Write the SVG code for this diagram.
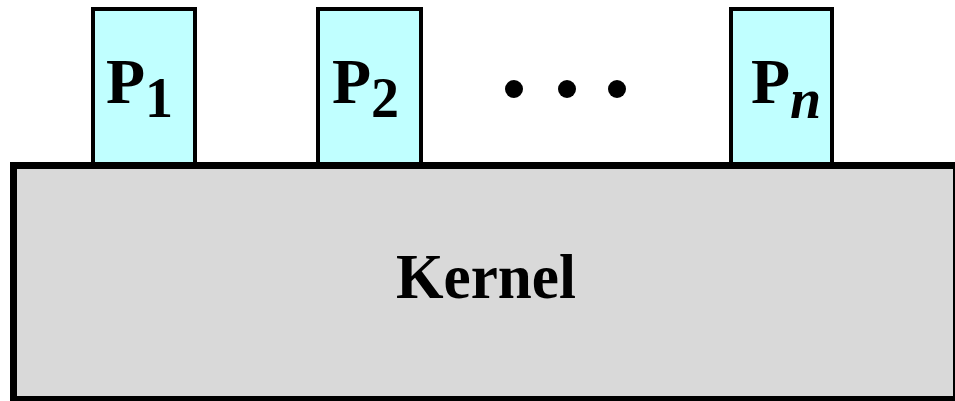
<svg xmlns="http://www.w3.org/2000/svg" width="955" height="401" viewBox="0 0 955 401">
<style>
.proc{fill:#c0ffff;stroke:#000;stroke-width:4}
.kern{fill:#d9d9d9;stroke:#000;stroke-width:7}
.lbl{font-family:"Liberation Serif","Times New Roman",serif;font-weight:bold;fill:#000}
.dot{fill:#000}
</style>
<rect width="955" height="401" fill="#fff"/>
<g id="p1">
<rect class="proc" x="93" y="9" width="102" height="158"/>
<text class="lbl" x="106" y="103" font-size="64">P<tspan font-size="56" dy="14">1</tspan></text>
</g>
<g id="p2">
<rect class="proc" x="318" y="9" width="103" height="158"/>
<text class="lbl" x="332" y="103" font-size="64">P<tspan font-size="56" dy="14">2</tspan></text>
</g>
<g id="pn">
<rect class="proc" x="731" y="9" width="101" height="158"/>
<text class="lbl" x="751" y="103" font-size="64">P<tspan font-size="56" dy="15" font-style="italic">n</tspan></text>
</g>
<g id="dots">
<circle class="dot" cx="514" cy="89" r="9"/>
<circle class="dot" cx="567" cy="89" r="9"/>
<circle class="dot" cx="617" cy="89" r="9"/>
</g>
<g id="kernel">
<rect class="kern" x="13.5" y="165.5" width="943" height="234"/>
<text class="lbl" x="486" y="298" font-size="63" text-anchor="middle" textLength="180" lengthAdjust="spacingAndGlyphs">Kernel</text>
</g>
<g id="connectors"/>
</svg>
